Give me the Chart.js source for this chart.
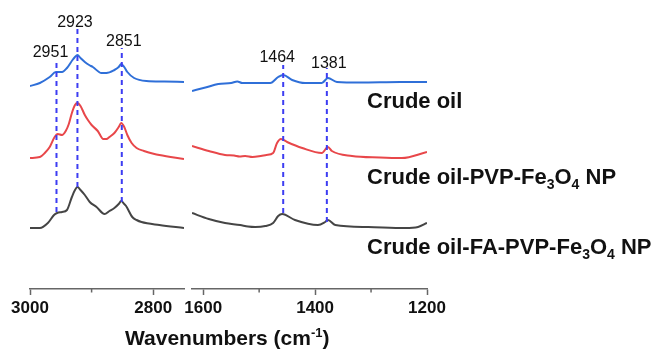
<!DOCTYPE html>
<html><head><meta charset="utf-8">
<script src="https://cdn.jsdelivr.net/npm/chart.js@4/dist/chart.umd.min.js"></script>
<style>
html,body{margin:0;padding:0;background:#fff;}
#wrap{position:relative;width:658px;height:351px;overflow:hidden;font-family:"Liberation Sans",Arial,sans-serif;}
.cv{position:absolute;top:0;}
#cLeft{left:0;}
#cRight{left:150px;}
.peak{position:absolute;font-size:16px;color:#111;transform:translate(-50%,-50%);white-space:nowrap;line-height:1;}
.name{position:absolute;left:367px;font-weight:bold;font-size:22px;color:#111;white-space:nowrap;line-height:1;transform:translateY(-50%);}
.name sub{font-size:14px;vertical-align:-5px;line-height:0;}
#xtitle{position:absolute;left:125px;top:337px;transform:translateY(-50%);font-weight:bold;font-size:21px;color:#111;white-space:nowrap;line-height:1;}
#xtitle sup{font-size:13px;vertical-align:8px;line-height:0;}
</style>
</head><body>
<div id="wrap">
<canvas id="cLeft" class="cv" width="190" height="351"></canvas>
<canvas id="cRight" class="cv" width="508" height="351"></canvas>
</div>
<script>
// ---- data (wavenumber cm-1, absorbance offset a.u.) ----
const crudeLeftW = [3000,2984,2968,2958,2948,2940,2931,2927,2923,2918,2911,2904,2898,2884,2876,2863,2856,2852,2847,2842,2831,2811,2782,2750];
const crudeLeftA = [2.03,2.06,2.12,2.17,2.17,2.21,2.29,2.32,2.34,2.31,2.27,2.24,2.22,2.16,2.16,2.19,2.22,2.25,2.22,2.17,2.11,2.08,2.075,2.07];
const pvpLeftW = [3000,2984,2976,2968,2960,2955,2948,2942,2937,2932,2927,2923,2918,2911,2906,2900,2890,2881,2876,2871,2863,2856,2852,2847,2842,2835,2827,2815,2798,2790,2750];
const pvpLeftA = [1.31,1.32,1.36,1.42,1.52,1.55,1.54,1.58,1.65,1.76,1.84,1.86,1.83,1.74,1.69,1.64,1.58,1.50,1.50,1.52,1.56,1.62,1.66,1.62,1.54,1.46,1.41,1.38,1.35,1.34,1.30];
const faLeftW = [3000,2984,2971,2961,2956,2948,2940,2932,2927,2923,2918,2911,2903,2892,2879,2871,2863,2856,2852,2847,2844,2834,2827,2819,2790,2750];
const faLeftA = [0.61,0.61,0.66,0.74,0.76,0.77,0.79,0.92,0.99,1.02,0.99,0.94,0.87,0.82,0.75,0.78,0.81,0.85,0.88,0.85,0.83,0.72,0.69,0.67,0.64,0.61];

const crudeRightW = [1620,1596,1573,1550,1539,1530,1512,1480,1466,1457,1441,1418,1388,1377,1361,1320,1248,1200];
const crudeRightA = [1.98,2.015,2.05,2.06,2.075,2.06,2.06,2.06,2.12,2.14,2.09,2.06,2.06,2.11,2.07,2.065,2.07,2.07];
const pvpRightW = [1620,1590,1561,1545,1535,1525,1512,1497,1487,1475,1468,1461,1450,1423,1388,1377,1370,1334,1284,1245,1200];
const pvpRightA = [1.43,1.38,1.34,1.335,1.325,1.33,1.32,1.33,1.34,1.36,1.46,1.50,1.47,1.41,1.36,1.42,1.38,1.33,1.315,1.31,1.37];
const faRightW = [1620,1590,1561,1534,1520,1507,1489,1475,1466,1459,1436,1395,1382,1377,1364,1305,1239,1216,1200];
const faRightA = [0.76,0.70,0.66,0.64,0.625,0.62,0.63,0.66,0.73,0.75,0.69,0.64,0.67,0.69,0.64,0.62,0.61,0.62,0.66];

const peakPos = [2957, 2923, 2851, 1457, 1379];
const peakTop = [2.26, 2.61, 2.41, 2.24, 2.21];
const peakBottom = [0.77, 1.02, 0.87, 0.76, 0.67];
const peakLabels = ['2951', '2923', '2851', '1464', '1381'];

const leftTicks = [3000, 2800];
const leftMinor = [2900];
const rightTicks = [1600, 1400, 1200];
const rightMinor = [1500, 1300];

const seriesNames = ['Crude oil', 'Crude oil-PVP-Fe<sub>3</sub>O<sub>4</sub> NP', 'Crude oil-FA-PVP-Fe<sub>3</sub>O<sub>4</sub> NP'];
const axisTitle = 'Wavenumbers (cm<sup>-1</sup>)';

// ---- styles / layout ----
const colors = ['#2f6fd8', '#e8474a', '#454545'];
const dashColor = '#3d3df2';
const nameY = [101, 177, 247];
const labelNudge = [[-6,-11],[-2.5,-6],[2,-7],[-6,-8],[2,-5]];

const pts = (w, a) => w.map((x, i) => ({x, y: a[i]}));

const minorTicks = {
  id: 'minorTicks',
  afterDraw(chart, args, opts) {
    const s = chart.scales.x, ctx = chart.ctx;
    ctx.save(); ctx.strokeStyle = '#666'; ctx.lineWidth = 1.5;
    (opts.values || []).forEach(v => {
      const x = s.getPixelForValue(v);
      ctx.beginPath(); ctx.moveTo(x, s.top); ctx.lineTo(x, s.top + 3.5); ctx.stroke();
    });
    ctx.restore();
  }
};

function traceDs(data, c) {
  return {data, borderColor: c, borderWidth: 2, pointRadius: 0, cubicInterpolationMode: 'monotone', fill: false, order: 2};
}
function dashDs(i) {
  return {data: [{x: peakPos[i], y: peakBottom[i]}, {x: peakPos[i], y: peakTop[i]}], borderColor: dashColor, borderWidth: 2, borderDash: [5, 4], pointRadius: 0, fill: false, order: 0};
}

function makeChart(id, min, max, ticks, minor, datasets, padL, padR) {
  return new Chart(document.getElementById(id), {
    type: 'line',
    data: {datasets},
    plugins: [minorTicks],
    options: {
      responsive: false, animation: false, devicePixelRatio: 1,
      layout: {padding: {left: padL, right: padR, top: 10, bottom: 0}},
      plugins: {legend: {display: false}, tooltip: {enabled: false}, minorTicks: {values: minor}},
      scales: {
        x: {
          type: 'linear', min, max, reverse: true,
          afterBuildTicks: s => { s.ticks = ticks.map(v => ({value: v})); },
          afterFit: s => { s.height = 62; },
          grid: {drawOnChartArea: false, drawTicks: true, tickLength: 6, tickColor: '#666', tickWidth: 1.5},
          border: {display: true, color: '#666', width: 1.5},
          ticks: {callback: v => String(v), font: {family: '"Liberation Sans", Arial, sans-serif', size: 17, weight: 'bold'}, color: '#111', padding: 3, maxRotation: 0, autoSkip: false}
        },
        y: {display: false, min: 0, max: 2.79}
      }
    }
  });
}

const leftIdx = [0, 1, 2], rightIdx = [3, 4];
const left = makeChart('cLeft', 2750, 3000, leftTicks, leftMinor,
  [...leftIdx.map(dashDs), traceDs(pts(crudeLeftW, crudeLeftA), colors[0]), traceDs(pts(pvpLeftW, pvpLeftA), colors[1]), traceDs(pts(faLeftW, faLeftA), colors[2])],
  30, 6);
const right = makeChart('cRight', 1200, 1620, rightTicks, rightMinor,
  [...rightIdx.map(dashDs), traceDs(pts(crudeRightW, crudeRightA), colors[0]), traceDs(pts(pvpRightW, pvpRightA), colors[1]), traceDs(pts(faRightW, faRightA), colors[2])],
  42, 231);

const wrap = document.getElementById('wrap');
peakLabels.forEach((t, i) => {
  const ch = i < 3 ? left : right, off = i < 3 ? 0 : 150;
  const x = ch.scales.x.getPixelForValue(peakPos[i]) + off + labelNudge[i][0];
  const y = ch.scales.y.getPixelForValue(peakTop[i]) + labelNudge[i][1];
  const d = document.createElement('div'); d.className = 'peak'; d.textContent = t;
  d.style.left = x + 'px'; d.style.top = y + 'px'; wrap.appendChild(d);
});
seriesNames.forEach((n, i) => {
  const d = document.createElement('div'); d.className = 'name'; d.innerHTML = n;
  d.style.top = nameY[i] + 'px'; wrap.appendChild(d);
});
const tt = document.createElement('div'); tt.id = 'xtitle'; tt.innerHTML = axisTitle; wrap.appendChild(tt);
</script>
</body></html>
